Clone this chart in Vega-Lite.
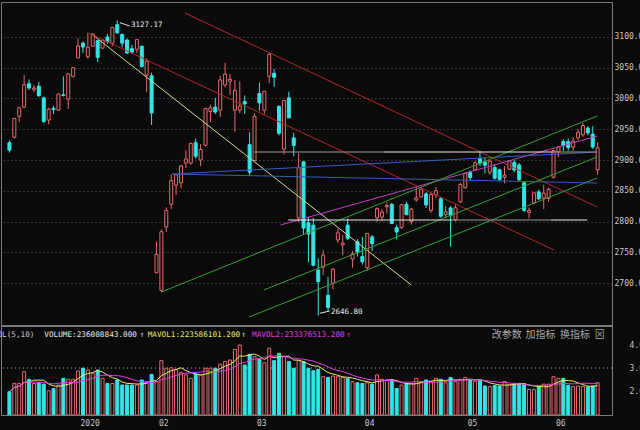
{
"$schema": "https://vega.github.io/schema/vega-lite/v6.json",
"background": "#0a0a0a",
"autosize": {"type": "none"},
"padding": {"left": 1, "top": 2, "right": 28, "bottom": 15},
"width": 611,
"height": 413,
"config": {"view": {"stroke": "#7a7a7a", "strokeWidth": 1}},
"datasets": {
"k": [
{"i":0,"d":"2019-12-12","o":2928,"h":2932,"l":2912,"c":2916,"v":1.97},
{"i":1,"d":"2019-12-13","o":2937,"h":2968,"l":2935,"c":2967.7,"v":2.33},
{"i":2,"d":"2019-12-16","o":2971,"h":2986,"l":2962,"c":2984.8,"v":2.33},
{"i":3,"d":"2019-12-17","o":2986,"h":3038,"l":2984,"c":3022.4,"v":2.84},
{"i":4,"d":"2019-12-18","o":3024,"h":3031,"l":3014,"c":3017,"v":2.51},
{"i":5,"d":"2019-12-19","o":3015,"h":3022,"l":3010,"c":3017.1,"v":2.33},
{"i":6,"d":"2019-12-20","o":3020,"h":3027,"l":3002,"c":3004.9,"v":2.36},
{"i":7,"d":"2019-12-23","o":3001,"h":3003,"l":2960,"c":2962.8,"v":2.30},
{"i":8,"d":"2019-12-24","o":2965,"h":2985,"l":2958,"c":2982.7,"v":2.01},
{"i":9,"d":"2019-12-25","o":2984,"h":2988,"l":2975,"c":2981.9,"v":2.11},
{"i":10,"d":"2019-12-26","o":2981,"h":3008,"l":2980,"c":3007.4,"v":2.26},
{"i":11,"d":"2019-12-27","o":3006,"h":3036,"l":3003,"c":3005,"v":2.55},
{"i":12,"d":"2019-12-30","o":2999,"h":3041,"l":2983,"c":3040,"v":2.51},
{"i":13,"d":"2019-12-31","o":3036,"h":3051,"l":3034,"c":3050.1,"v":2.51},
{"i":14,"d":"2020-01-02","o":3066,"h":3098,"l":3066,"c":3085.2,"v":2.87},
{"i":15,"d":"2020-01-03","o":3090,"h":3093,"l":3074,"c":3083.8,"v":2.99},
{"i":16,"d":"2020-01-06","o":3068,"h":3107,"l":3065,"c":3083.4,"v":2.91},
{"i":17,"d":"2020-01-07","o":3085,"h":3106,"l":3084,"c":3104.8,"v":2.77},
{"i":18,"d":"2020-01-08","o":3094,"h":3095,"l":3059,"c":3066.9,"v":2.91},
{"i":19,"d":"2020-01-09","o":3082,"h":3097,"l":3080,"c":3094.9,"v":2.55},
{"i":20,"d":"2020-01-10","o":3100,"h":3105,"l":3089,"c":3092.3,"v":2.33},
{"i":21,"d":"2020-01-13","o":3090,"h":3116,"l":3085,"c":3115.6,"v":2.33},
{"i":22,"d":"2020-01-14","o":3120,"h":3127.17,"l":3105,"c":3106.8,"v":2.48},
{"i":23,"d":"2020-01-15","o":3104,"h":3106,"l":3083,"c":3090,"v":2.26},
{"i":24,"d":"2020-01-16","o":3095,"h":3098,"l":3072,"c":3074.1,"v":2.26},
{"i":25,"d":"2020-01-17","o":3081,"h":3087,"l":3073,"c":3075.5,"v":2.26},
{"i":26,"d":"2020-01-20","o":3080,"h":3096,"l":3074,"c":3095.8,"v":2.26},
{"i":27,"d":"2020-01-21","o":3085,"h":3086,"l":3050,"c":3052.1,"v":2.48},
{"i":28,"d":"2020-01-22","o":3038,"h":3065,"l":3010,"c":3060.8,"v":2.41},
{"i":29,"d":"2020-01-23","o":3037,"h":3042,"l":2957,"c":2976.5,"v":2.72},
{"i":30,"d":"2020-02-03","o":2716.7,"h":2767,"l":2716.7,"c":2746.6,"v":2.41},
{"i":31,"d":"2020-02-04","o":2688,"h":2787,"l":2685.3,"c":2783.3,"v":3.32},
{"i":32,"d":"2020-02-05","o":2791,"h":2823,"l":2783,"c":2818.1,"v":2.99},
{"i":33,"d":"2020-02-06","o":2828,"h":2876,"l":2820,"c":2866.5,"v":3.01},
{"i":34,"d":"2020-02-07","o":2859,"h":2877,"l":2843,"c":2876,"v":2.94},
{"i":35,"d":"2020-02-10","o":2863,"h":2892,"l":2854,"c":2890.5,"v":2.80},
{"i":36,"d":"2020-02-11","o":2895,"h":2916,"l":2887,"c":2901.7,"v":2.70},
{"i":37,"d":"2020-02-12","o":2895,"h":2928,"l":2892,"c":2926.9,"v":2.55},
{"i":38,"d":"2020-02-13","o":2928,"h":2935,"l":2902,"c":2906.1,"v":2.74},
{"i":39,"d":"2020-02-14","o":2900,"h":2926,"l":2890,"c":2917,"v":2.70},
{"i":40,"d":"2020-02-17","o":2924,"h":2985,"l":2922,"c":2983.6,"v":2.99},
{"i":41,"d":"2020-02-18","o":2979,"h":2990,"l":2962,"c":2985,"v":2.99},
{"i":42,"d":"2020-02-19","o":2986,"h":3001,"l":2975,"c":2978,"v":2.99},
{"i":43,"d":"2020-02-20","o":2981,"h":3037,"l":2970,"c":3030.2,"v":3.17},
{"i":44,"d":"2020-02-21","o":3022,"h":3058,"l":3018,"c":3039.7,"v":3.28},
{"i":45,"d":"2020-02-24","o":3028,"h":3040,"l":3006,"c":3031.2,"v":3.35},
{"i":46,"d":"2020-02-25","o":2981,"h":3030,"l":2946,"c":3013.1,"v":3.81},
{"i":47,"d":"2020-02-26","o":2981,"h":3028,"l":2976,"c":2987.9,"v":4.00},
{"i":48,"d":"2020-02-27","o":2995,"h":3005,"l":2975,"c":2991.3,"v":3.13},
{"i":49,"d":"2020-02-28","o":2925,"h":2945,"l":2875,"c":2880.3,"v":3.59},
{"i":50,"d":"2020-03-02","o":2899,"h":2976,"l":2899,"c":2970.9,"v":3.49},
{"i":51,"d":"2020-03-03","o":3008,"h":3026,"l":2980,"c":2992.9,"v":3.38},
{"i":52,"d":"2020-03-04","o":2981,"h":3012,"l":2974,"c":3011.7,"v":3.23},
{"i":53,"d":"2020-03-05","o":3036,"h":3074,"l":3025,"c":3071.7,"v":3.86},
{"i":54,"d":"2020-03-06","o":3041,"h":3048,"l":3019,"c":3034.5,"v":3.32},
{"i":55,"d":"2020-03-09","o":2987,"h":2989,"l":2940,"c":2943.3,"v":3.64},
{"i":56,"d":"2020-03-10","o":2918,"h":2998,"l":2909,"c":2996.8,"v":3.49},
{"i":57,"d":"2020-03-11","o":3001,"h":3011,"l":2968,"c":2968.5,"v":3.28},
{"i":58,"d":"2020-03-12","o":2936,"h":2944,"l":2906,"c":2923.5,"v":2.99},
{"i":59,"d":"2020-03-13","o":2806,"h":2911,"l":2799,"c":2887.4,"v":3.32},
{"i":60,"d":"2020-03-16","o":2897,"h":2898,"l":2778,"c":2789.3,"v":3.28},
{"i":61,"d":"2020-03-17","o":2798,"h":2807,"l":2734,"c":2779.6,"v":2.99},
{"i":62,"d":"2020-03-18","o":2794,"h":2806,"l":2727,"c":2728.8,"v":2.88},
{"i":63,"d":"2020-03-19","o":2721,"h":2740,"l":2646.8,"c":2702.1,"v":2.94},
{"i":64,"d":"2020-03-20","o":2726,"h":2754,"l":2713,"c":2745.6,"v":2.62},
{"i":65,"d":"2020-03-23","o":2680,"h":2710,"l":2653,"c":2660.2,"v":2.59},
{"i":66,"d":"2020-03-24","o":2700,"h":2725,"l":2690,"c":2722.4,"v":2.65},
{"i":67,"d":"2020-03-25","o":2770,"h":2788,"l":2765,"c":2781.6,"v":2.62},
{"i":68,"d":"2020-03-26","o":2762,"h":2778,"l":2745,"c":2764.9,"v":2.59},
{"i":69,"d":"2020-03-27","o":2794,"h":2805,"l":2770,"c":2772.2,"v":2.55},
{"i":70,"d":"2020-03-30","o":2739,"h":2752,"l":2725,"c":2747.2,"v":2.41},
{"i":71,"d":"2020-03-31","o":2767,"h":2771,"l":2743,"c":2750.3,"v":2.36},
{"i":72,"d":"2020-04-01","o":2743,"h":2775,"l":2730,"c":2734.5,"v":2.33},
{"i":73,"d":"2020-04-02","o":2725,"h":2781,"l":2720,"c":2780.6,"v":2.36},
{"i":74,"d":"2020-04-03","o":2775,"h":2778,"l":2752,"c":2764,"v":2.30},
{"i":75,"d":"2020-04-07","o":2806,"h":2823,"l":2800,"c":2820.8,"v":2.70},
{"i":76,"d":"2020-04-08","o":2807,"h":2820,"l":2800,"c":2815.4,"v":2.51},
{"i":77,"d":"2020-04-09","o":2824,"h":2831,"l":2813,"c":2825.9,"v":2.48},
{"i":78,"d":"2020-04-10","o":2828,"h":2830,"l":2796,"c":2796.6,"v":2.48},
{"i":79,"d":"2020-04-13","o":2790,"h":2795,"l":2771,"c":2783,"v":2.11},
{"i":80,"d":"2020-04-14","o":2790,"h":2828,"l":2788,"c":2827.3,"v":2.26},
{"i":81,"d":"2020-04-15","o":2828,"h":2832,"l":2810,"c":2811.2,"v":2.33},
{"i":82,"d":"2020-04-16","o":2800,"h":2822,"l":2795,"c":2819.9,"v":2.33},
{"i":83,"d":"2020-04-17","o":2835,"h":2856,"l":2832,"c":2838.5,"v":2.55},
{"i":84,"d":"2020-04-20","o":2840,"h":2856,"l":2838,"c":2852.6,"v":2.36},
{"i":85,"d":"2020-04-21","o":2845,"h":2848,"l":2822,"c":2827,"v":2.48},
{"i":86,"d":"2020-04-22","o":2818,"h":2847,"l":2814,"c":2844,"v":2.41},
{"i":87,"d":"2020-04-23","o":2843,"h":2856,"l":2838,"c":2850,"v":2.55},
{"i":88,"d":"2020-04-24","o":2837,"h":2840,"l":2806,"c":2808.5,"v":2.51},
{"i":89,"d":"2020-04-27","o":2811,"h":2825,"l":2805,"c":2815.5,"v":2.36},
{"i":90,"d":"2020-04-28","o":2822,"h":2825,"l":2759,"c":2810,"v":2.59},
{"i":91,"d":"2020-04-29","o":2803,"h":2828,"l":2800,"c":2822.4,"v":2.41},
{"i":92,"d":"2020-04-30","o":2832,"h":2863,"l":2830,"c":2860.1,"v":2.51},
{"i":93,"d":"2020-05-06","o":2855,"h":2880,"l":2853,"c":2878.1,"v":2.59},
{"i":94,"d":"2020-05-07","o":2880,"h":2883,"l":2866,"c":2871.5,"v":2.48},
{"i":95,"d":"2020-05-08","o":2884,"h":2898,"l":2882,"c":2895.3,"v":2.43},
{"i":96,"d":"2020-05-11","o":2902,"h":2915,"l":2890,"c":2894.8,"v":2.45},
{"i":97,"d":"2020-05-12","o":2897,"h":2904,"l":2878,"c":2891.6,"v":2.22},
{"i":98,"d":"2020-05-13","o":2880,"h":2900,"l":2876,"c":2898,"v":2.19},
{"i":99,"d":"2020-05-14","o":2888,"h":2893,"l":2868,"c":2870.3,"v":2.24},
{"i":100,"d":"2020-05-15","o":2884,"h":2886,"l":2865,"c":2868.5,"v":2.22},
{"i":101,"d":"2020-05-18","o":2872,"h":2890,"l":2862,"c":2875.4,"v":2.41},
{"i":102,"d":"2020-05-19","o":2885,"h":2900,"l":2884,"c":2898.6,"v":2.26},
{"i":103,"d":"2020-05-20","o":2896,"h":2900,"l":2880,"c":2883.7,"v":2.33},
{"i":104,"d":"2020-05-21","o":2892,"h":2895,"l":2866,"c":2867.9,"v":2.33},
{"i":105,"d":"2020-05-22","o":2863,"h":2864,"l":2815,"c":2818,"v":2.30},
{"i":106,"d":"2020-05-25","o":2815,"h":2823,"l":2805,"c":2818,"v":2.07},
{"i":107,"d":"2020-05-26","o":2830,"h":2848,"l":2828,"c":2846.6,"v":2.07},
{"i":108,"d":"2020-05-27","o":2848,"h":2852,"l":2835,"c":2836.8,"v":2.19},
{"i":109,"d":"2020-05-28","o":2838,"h":2860,"l":2820,"c":2846.2,"v":2.30},
{"i":110,"d":"2020-05-29","o":2838,"h":2855,"l":2832,"c":2852.4,"v":2.30},
{"i":111,"d":"2020-06-01","o":2872,"h":2916,"l":2870,"c":2915.4,"v":2.62},
{"i":112,"d":"2020-06-02","o":2913,"h":2922,"l":2905,"c":2921.4,"v":2.55},
{"i":113,"d":"2020-06-03","o":2930,"h":2934,"l":2915,"c":2923.4,"v":2.55},
{"i":114,"d":"2020-06-04","o":2930,"h":2935,"l":2915,"c":2920,"v":2.25},
{"i":115,"d":"2020-06-05","o":2921,"h":2937,"l":2915,"c":2930.8,"v":2.19},
{"i":116,"d":"2020-06-08","o":2936,"h":2950,"l":2932,"c":2945,"v":2.22},
{"i":117,"d":"2020-06-09","o":2941,"h":2960,"l":2938,"c":2956,"v":2.20},
{"i":118,"d":"2020-06-10","o":2952,"h":2955,"l":2940,"c":2944,"v":2.18},
{"i":119,"d":"2020-06-11","o":2942,"h":2955,"l":2918,"c":2921,"v":2.22},
{"i":120,"d":"2020-06-12","o":2884,"h":2929,"l":2876,"c":2920,"v":2.36}
],
"ln": [
{"id":"y1","i":16.76,"p":3104.9},{"id":"y1","i":81.98,"p":2696.8},
{"id":"rA","i":35.82,"p":3139.0},{"id":"rA","i":119.9,"p":2823.6},
{"id":"rB","i":16.15,"p":3106.5},{"id":"rB","i":111.1,"p":2753.7},
{"id":"m1","i":55.29,"p":2794.3},{"id":"m1","i":119.9,"p":2939.0},
{"id":"g1","i":31.0,"p":2685.4},{"id":"g1","i":119.9,"p":2971.5},
{"id":"g2","i":51.88,"p":2688.6},{"id":"g2","i":119.9,"p":2904.9},
{"id":"g3","i":48.87,"p":2644.7},{"id":"g3","i":119.9,"p":2870.7},
{"id":"b1","i":33.21,"p":2877.2},{"id":"b1","i":119.9,"p":2913.0},
{"id":"b2","i":33.21,"p":2877.2},{"id":"b2","i":119.9,"p":2862.6},
{"id":"h1","i":49.87,"p":2913.0},{"id":"h1","i":76.4,"p":2913.0},
{"id":"h2","i":76.4,"p":2913.0},{"id":"h2","i":111.1,"p":2913.0},
{"id":"h3","i":111.1,"p":2913.0},{"id":"h3","i":119.9,"p":2913.0},
{"id":"h4","i":56.9,"p":2802.4},{"id":"h4","i":90.4,"p":2802.4},
{"id":"h5","i":90.4,"p":2802.4},{"id":"h5","i":110.5,"p":2802.4},
{"id":"h6","i":110.5,"p":2802.4},{"id":"h6","i":117.9,"p":2802.4}
],
"ann": [
{"t":"3127.17","i":24.8,"p":3118.7,"ai":22.52,"ap":3123.3,"ai2":24.53,"ap2":3117.9},
{"t":"2646.80","i":65.6,"p":2652.4,"ai":63.3,"ap":2650.7,"ai2":65.3,"ap2":2654.4}
],
"hdr": [
{"t":"VOL(5,10)","i":-3.4,"col":"#c8c8c8"},
{"t":"VOLUME:236008843.000","i":7.12,"col":"#e8e8e8"},
{"t":"↑","i":26.6,"col":"#e8e8e8"},
{"t":"MAVOL1:223586101.200","i":28.2,"col":"#e6e67a"},
{"t":"↑","i":47.3,"col":"#e6e67a"},
{"t":"MAVOL2:233376513.200","i":49.5,"col":"#e040e0"},
{"t":"↑","i":68.7,"col":"#e040e0"}
],
"btn": [
{"t":"改参数","i":98.4},
{"t":"加指标","i":105.3},
{"t":"换指标","i":112.3},
{"t":"⊠","i":119.4}
]
},
"data": {"name": "k"},
"resolve": {"scale": {"y": "independent"}, "axis": {"y": "independent"}},
"layer": [
{
"layer": [
{"mark": {"type": "rule", "strokeWidth": 1},
 "encoding": {
  "x": {"field": "i", "type": "quantitative", "title": null, "scale": {"domain": [-0.70, 121.91], "nice": false, "zero": false}},
  "y": {"field": "l", "type": "quantitative", "title": null, "scale": {"domain": [2630.1, 3156.9], "range": [324, 0], "nice": false, "zero": false},
        "axis": {"orient": "right", "values": [2700,2750,2800,2850,2900,2950,3000,3050,3100], "labelExpr": "format(datum.value, '.1f')", "grid": true, "gridDash": [1,3], "gridColor": "#5a5a5a", "ticks": false, "domain": false, "labelColor": "#c8c8c8", "labelFont": "DejaVu Sans Mono", "labelFontSize": 8, "labelPadding": 2, "title": null}},
  "y2": {"field": "h"},
  "stroke": {"condition": {"test": "datum.c >= datum.o", "value": "#e86a6a"}, "value": "#33e5e5"}
 }},
{"mark": {"type": "bar", "width": 3, "strokeWidth": 1},
 "encoding": {
  "x": {"field": "i", "type": "quantitative", "title": null},
  "y": {"field": "o", "type": "quantitative", "title": null},
  "y2": {"field": "c"},
  "fill": {"condition": {"test": "datum.c >= datum.o", "value": "#0a0a0a"}, "value": "#33e5e5"},
  "stroke": {"condition": {"test": "datum.c >= datum.o", "value": "#e86a6a"}, "value": "#33e5e5"}
 }},
{"data": {"name": "ln"},
 "mark": {"type": "line", "strokeWidth": 1, "clip": true},
 "encoding": {
  "x": {"field": "i", "type": "quantitative", "title": null},
  "y": {"field": "p", "type": "quantitative", "title": null},
  "color": {"field": "id", "type": "nominal", "legend": null,
   "scale": {"domain": ["y1","rA","rB","m1","g1","g2","g3","b1","b2","h1","h2","h3","h4","h5","h6"],
             "range": ["#d8d890","#b02a2a","#b02a2a","#c040c0","#3c9c3c","#3c9c3c","#3c9c3c","#3a5cc0","#3a5cc0","#9a9a9a","#e8e8e8","#9a9a9a","#e8e8e8","#9a9a9a","#e8e8e8"]}}
 }},
{"data": {"name": "ann"},
 "mark": {"type": "rule", "color": "#e0e0e0", "strokeWidth": 1},
 "encoding": {"x": {"field": "ai", "type": "quantitative", "title": null}, "x2": {"field": "ai2"}, "y": {"field": "ap", "type": "quantitative", "title": null}, "y2": {"field": "ap2"}}},
{"data": {"name": "ann"},
 "mark": {"type": "text", "align": "left", "baseline": "middle", "font": "DejaVu Sans Mono", "fontSize": 7.5, "color": "#e8e8e8"},
 "encoding": {"x": {"field": "i", "type": "quantitative", "title": null}, "y": {"field": "p", "type": "quantitative", "title": null}, "text": {"field": "t"}}}
]
},
{
"layer": [
{"mark": {"type": "rule", "strokeDash": [1,3], "color": "#5a5a5a"},
 "encoding": {"y": {"datum": 3, "type": "quantitative", "title": null, "scale": {"domain": [0.957, 4.826], "range": [413, 324], "nice": false, "zero": false},
   "axis": {"orient": "right", "values": [2,3,4], "format": ".1f", "grid": false, "ticks": false, "domain": false, "labelColor": "#c8c8c8", "labelFont": "DejaVu Sans Mono", "labelFontSize": 8, "labelPadding": 17, "title": null}}}},
{"mark": {"type": "rule", "color": "#7a7a7a", "strokeWidth": 1},
 "encoding": {"y": {"datum": 4.826, "type": "quantitative", "title": null}}},
{"mark": {"type": "bar", "width": 3, "strokeWidth": 1, "clip": true},
 "encoding": {
  "x": {"field": "i", "type": "quantitative", "title": null,
    "axis": {"values": [14,30,50,72,93,111], "labelExpr": "datum.value==14?'2020':datum.value==30?'02':datum.value==50?'03':datum.value==72?'04':datum.value==93?'05':'06'", "labelAlign": "left", "labelOffset": 2, "labelColor": "#c8c8c8", "labelFont": "DejaVu Sans Mono", "labelFontSize": 8, "labelPadding": 4, "labelFlush": false, "labelOverlap": false, "ticks": false, "domain": false, "grid": false, "title": null}},
  "y": {"field": "v", "type": "quantitative", "title": null},
  "y2": {"datum": 0.957},
  "fill": {"condition": {"test": "datum.c >= datum.o", "value": "#0a0a0a"}, "value": "#33e5e5"},
  "stroke": {"condition": {"test": "datum.c >= datum.o", "value": "#e86a6a"}, "value": "#33e5e5"}
 }},
{"transform": [{"window": [{"op": "mean", "field": "v", "as": "ma5"}], "frame": [-4, 0], "sort": [{"field": "i"}]}],
 "mark": {"type": "line", "strokeWidth": 1, "color": "#e6e67a"},
 "encoding": {"x": {"field": "i", "type": "quantitative", "title": null}, "y": {"field": "ma5", "type": "quantitative", "title": null}}},
{"transform": [{"window": [{"op": "mean", "field": "v", "as": "ma10"}], "frame": [-9, 0], "sort": [{"field": "i"}]}],
 "mark": {"type": "line", "strokeWidth": 1, "color": "#e040e0"},
 "encoding": {"x": {"field": "i", "type": "quantitative", "title": null}, "y": {"field": "ma10", "type": "quantitative", "title": null}}},
{"data": {"name": "hdr"},
 "mark": {"type": "text", "align": "left", "baseline": "middle", "font": "DejaVu Sans Mono", "fontSize": 7.7},
 "encoding": {"x": {"field": "i", "type": "quantitative", "title": null}, "y": {"datum": 4.42, "type": "quantitative"}, "text": {"field": "t"}, "color": {"field": "col", "type": "nominal", "scale": null}}},
{"data": {"name": "btn"},
 "mark": {"type": "text", "align": "left", "baseline": "middle", "font": "Noto Sans CJK SC", "fontSize": 10, "color": "#a8a8a8"},
 "encoding": {"x": {"field": "i", "type": "quantitative", "title": null}, "y": {"datum": 4.42, "type": "quantitative"}, "text": {"field": "t"}}}
]
}
]
}
